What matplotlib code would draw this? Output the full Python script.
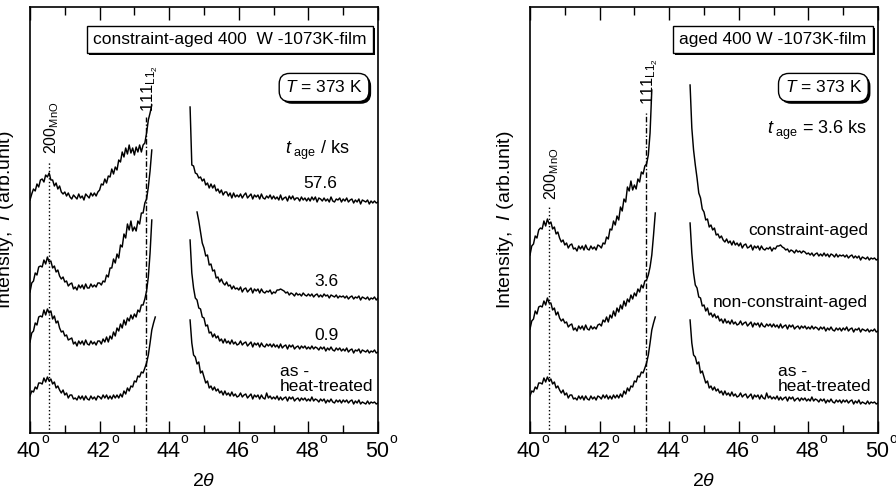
import matplotlib
matplotlib.use('Agg')
import matplotlib.pyplot as plt
import matplotlib.patheffects as pe
import matplotlib.transforms as mtransforms
import numpy as np

plt.rcParams['font.family'] = ['Liberation Sans', 'DejaVu Sans']
plt.rcParams['mathtext.fontset'] = 'custom'
plt.rcParams['mathtext.rm'] = 'Liberation Sans'
plt.rcParams['mathtext.it'] = 'Liberation Sans:italic'

nan = np.nan

# 2theta grid, 0.05 deg step (40 .. 50)
two_theta = np.round(np.arange(40.0, 50.001, 0.05), 2)

# intensities (arb. unit, stacked as plotted); nan = main peak clipped off
aged_57_6 = [
    233, 239, 244, 242, 249, 246, 253, 254, 251, 258, 256, 260, 253, 253, 247, 250, 244, 247, 241, 239,
    241, 237, 240, 236, 234, 238, 236, 234, 239, 235, 237, 233, 239, 237, 235, 240, 237, 240, 237, 241,
    243, 249, 248, 254, 250, 257, 256, 264, 259, 266, 263, 273, 271, 281, 276, 285, 279, 288, 280, 285,
    278, 286, 281, 288, 281, 288, 290, 300, 313, 320, 328, nan, nan, nan, nan, nan, nan, nan, nan, nan,
    nan, nan, nan, nan, nan, nan, nan, nan, nan, nan, nan, nan, 326, 268, 267, 260, 259, 255, 256, 252,
    254, 248, 250, 245, 249, 245, 248, 242, 244, 240, 243, 238, 241, 241, 237, 240, 235, 240, 236, 238,
    236, 239, 235, 238, 240, 235, 237, 239, 234, 238, 236, 238, 234, 239, 235, 234, 237, 235, 238, 234,
    237, 234, 236, 233, 238, 233, 235, 236, 232, 237, 234, 237, 233, 235, 235, 232, 236, 233, 235, 232,
    235, 232, 236, 233, 236, 231, 235, 234, 232, 235, 232, 234, 231, 236, 232, 231, 234, 233, 235, 231,
    234, 232, 235, 231, 233, 234, 230, 233, 231, 234, 229, 233, 232, 231, 233, 229, 232, 230, 232, 230,
    231]

aged_3_6 = [
    141, 150, 152, 160, 158, 166, 167, 166, 173, 169, 176, 171, 172, 165, 167, 161, 163, 157, 154, 156,
    151, 152, 147, 149, 150, 144, 146, 143, 148, 145, 148, 144, 149, 145, 145, 149, 146, 148, 146, 150,
    150, 148, 152, 151, 158, 156, 165, 165, 174, 170, 179, 175, 188, 186, 199, 195, 209, 203, 212, 202,
    206, 202, 212, 209, 220, 220, 230, 234, 246, 262, 283, nan, nan, nan, nan, nan, nan, nan, nan, nan,
    nan, nan, nan, nan, nan, nan, nan, nan, nan, nan, nan, nan, nan, nan, nan, nan, 221, 212, 201, 190,
    185, 177, 178, 168, 169, 162, 163, 155, 156, 151, 154, 150, 148, 151, 147, 148, 144, 147, 144, 145,
    143, 146, 141, 144, 145, 141, 143, 145, 140, 144, 142, 144, 140, 144, 141, 140, 142, 141, 143, 139,
    141, 140, 143, 143, 144, 143, 142, 140, 141, 138, 140, 139, 137, 140, 138, 139, 137, 140, 138, 137,
    139, 137, 139, 136, 138, 139, 136, 138, 136, 139, 137, 138, 135, 138, 137, 136, 138, 135, 137, 136,
    137, 135, 137, 134, 136, 137, 134, 136, 135, 137, 133, 136, 135, 134, 136, 133, 135, 134, 136, 133,
    135]

aged_0_9 = [
    91, 100, 102, 110, 108, 116, 117, 116, 123, 118, 124, 120, 122, 114, 117, 110, 112, 105, 101, 102,
    97, 98, 93, 94, 95, 89, 91, 87, 92, 89, 92, 88, 93, 89, 88, 92, 89, 91, 88, 92,
    92, 89, 94, 91, 96, 91, 97, 94, 101, 97, 105, 102, 109, 105, 113, 108, 115, 112, 118, 114,
    119, 116, 123, 121, 128, 128, 134, 142, 156, 180, 213, nan, nan, nan, nan, nan, nan, nan, nan, nan,
    nan, nan, nan, nan, nan, nan, nan, nan, nan, nan, nan, nan, 193, 160, 145, 135, 133, 125, 124, 116,
    115, 107, 108, 100, 101, 96, 99, 95, 97, 92, 94, 90, 94, 90, 92, 89, 93, 89, 91, 88,
    89, 92, 88, 90, 91, 87, 89, 91, 86, 90, 88, 90, 86, 90, 87, 86, 89, 87, 89, 86,
    89, 86, 88, 85, 89, 85, 87, 88, 84, 88, 86, 88, 84, 86, 87, 84, 87, 85, 87, 84,
    86, 84, 87, 84, 86, 85, 83, 86, 84, 86, 82, 85, 83, 86, 83, 82, 85, 83, 85, 82,
    84, 82, 85, 81, 83, 84, 80, 83, 82, 84, 80, 83, 82, 81, 83, 80, 82, 81, 83, 80,
    81]

as_heat_treated = [
    37, 42, 41, 46, 44, 50, 50, 49, 55, 51, 56, 52, 54, 49, 51, 45, 47, 43, 40, 43,
    38, 40, 35, 38, 38, 34, 35, 33, 37, 34, 37, 33, 37, 34, 33, 37, 34, 36, 33, 37,
    36, 34, 38, 35, 38, 34, 37, 34, 38, 35, 38, 35, 39, 36, 42, 39, 45, 42, 47, 46,
    52, 51, 57, 56, 61, 60, 65, 70, 78, 90, 103, 110, 116, nan, nan, nan, nan, nan, nan, nan,
    nan, nan, nan, nan, nan, nan, nan, nan, nan, nan, nan, nan, 113, 90, 78, 76, 69, 71, 60, 62,
    56, 50, 52, 45, 47, 43, 46, 42, 44, 40, 42, 38, 42, 38, 40, 37, 41, 37, 39, 36,
    37, 40, 36, 38, 39, 35, 37, 39, 34, 38, 36, 38, 34, 38, 35, 34, 40, 35, 37, 34,
    36, 34, 37, 33, 36, 33, 35, 36, 32, 36, 34, 36, 32, 34, 35, 32, 35, 33, 35, 32,
    34, 32, 36, 32, 34, 33, 31, 34, 32, 34, 30, 33, 31, 34, 31, 30, 33, 31, 33, 30,
    33, 31, 33, 30, 32, 33, 29, 32, 30, 33, 29, 31, 30, 29, 32, 29, 31, 30, 31, 29,
    30]

constraint_aged = [
    178, 187, 189, 197, 195, 203, 205, 204, 212, 207, 214, 209, 211, 204, 206, 199, 201, 195, 191, 193,
    188, 190, 185, 188, 189, 184, 185, 182, 187, 184, 187, 183, 188, 184, 183, 187, 184, 186, 183, 188,
    187, 185, 190, 189, 196, 194, 204, 203, 212, 208, 217, 213, 226, 222, 234, 231, 246, 242, 252, 243,
    248, 244, 254, 251, 261, 259, 267, 269, 278, 300, 343, nan, nan, nan, nan, nan, nan, nan, nan, nan,
    nan, nan, nan, nan, nan, nan, nan, nan, nan, nan, nan, nan, 348, 305, 283, 268, 255, 240, 235, 224,
    221, 213, 214, 206, 208, 203, 205, 198, 199, 195, 197, 193, 191, 194, 190, 192, 188, 192, 188, 190,
    187, 190, 185, 188, 189, 185, 186, 188, 183, 187, 185, 187, 183, 187, 184, 183, 185, 184, 186, 182,
    185, 184, 187, 187, 188, 186, 185, 183, 184, 181, 183, 182, 180, 183, 181, 182, 180, 182, 181, 179,
    180, 178, 180, 177, 179, 180, 177, 179, 177, 180, 177, 179, 176, 179, 178, 176, 179, 176, 178, 177,
    178, 176, 178, 175, 177, 178, 175, 177, 175, 177, 173, 176, 175, 174, 176, 173, 175, 174, 175, 173,
    174]

non_constraint_aged = [
    104, 112, 114, 122, 119, 126, 127, 126, 132, 128, 135, 130, 130, 123, 125, 118, 121, 115, 112, 114,
    110, 111, 106, 108, 109, 103, 105, 102, 107, 104, 107, 103, 108, 104, 103, 107, 104, 106, 104, 108,
    109, 107, 113, 111, 116, 111, 118, 115, 122, 117, 125, 121, 128, 124, 132, 127, 134, 131, 138, 134,
    140, 137, 144, 141, 148, 145, 152, 153, 158, 166, 178, 198, 220, nan, nan, nan, nan, nan, nan, nan,
    nan, nan, nan, nan, nan, nan, nan, nan, nan, nan, nan, nan, 210, 180, 160, 148, 145, 136, 135, 127,
    128, 122, 125, 118, 120, 116, 119, 115, 117, 112, 114, 110, 114, 110, 112, 109, 113, 109, 111, 108,
    109, 112, 108, 110, 111, 107, 109, 111, 106, 110, 108, 110, 106, 110, 107, 106, 109, 107, 109, 106,
    109, 106, 108, 105, 109, 105, 107, 108, 104, 108, 106, 108, 104, 106, 107, 104, 107, 105, 107, 104,
    106, 104, 107, 104, 106, 105, 103, 106, 104, 106, 102, 105, 103, 106, 103, 102, 105, 103, 105, 102,
    105, 103, 106, 102, 104, 105, 101, 104, 103, 105, 101, 104, 103, 102, 104, 101, 103, 102, 104, 101,
    102]

left_curves = [aged_57_6, aged_3_6, aged_0_9, as_heat_treated]
right_curves = [constraint_aged, non_constraint_aged, as_heat_treated]

mno_pos = 40.55
l12_pos = 43.32
xticks = [40, 42, 44, 46, 48, 50]

fig = plt.figure(figsize=(8.96, 4.92), dpi=100)
ax1 = fig.add_axes([30 / 896, 59 / 492, 348 / 896, 426 / 492])
ax2 = fig.add_axes([530 / 896, 59 / 492, 348 / 896, 426 / 492])


def shadow_box(t):
    t.get_bbox_patch().set_path_effects([
        pe.SimplePatchShadow(offset=(1.6, -1.6), shadow_rgbFace='black', alpha=1.0),
        pe.Normal()])


def setup(ax, curves):
    for c in curves:
        ax.plot(two_theta, c, color='black', lw=1.05)
    ax.set_xlim(40, 50)
    ax.set_ylim(0, 426)
    ax.set_xticks(xticks)
    ax.set_xticks(np.arange(41, 50, 2), minor=True)
    ax.set_yticks([])
    ax.tick_params(axis='x', which='both', direction='in', top=True, bottom=True,
                   width=1.0, labelbottom=False)
    ax.tick_params(axis='x', which='major', length=9)
    ax.tick_params(axis='x', which='minor', length=6)
    for s in ax.spines.values():
        s.set_linewidth(1.2)
    # tick labels with raised degree sign
    trans = mtransforms.blended_transform_factory(ax.transData, ax.transAxes)
    for v in xticks:
        ax.text(v - 0.03, -0.0556, '%d' % v, transform=trans, ha='center', va='baseline',
                fontsize=15.5, clip_on=False)
        ax.text(v + 0.44, -0.015, 'o', transform=trans, ha='center', va='center',
                fontsize=10, clip_on=False)
    ax.set_xlabel(r'$2\theta$', fontsize=14)
    ax.xaxis.set_label_coords(0.5, -0.093)
    ax.set_ylabel(r'Intensity,  $I$ (arb.unit)', fontsize=14, labelpad=10)


setup(ax1, left_curves)
setup(ax2, right_curves)

# reference lines and peak labels
for ax, top_mno, top_l12, lab_mno, lab_l12 in [(ax1, 271, 316, 279, 321),
                                                (ax2, 226, 320, 233, 328)]:
    ax.plot([mno_pos, mno_pos], [0, top_mno], color='black', lw=1.0, ls=':')
    ax.plot([l12_pos, l12_pos], [0, top_l12], color='black', lw=1.0,
            dashes=(4, 1.5, 1, 1.5))
    ax.text(mno_pos + 0.07, lab_mno, r'$\mathregular{200_{MnO}}$', rotation=90,
            ha='center', va='bottom', fontsize=11.5)
    ax.text(l12_pos + 0.13, lab_l12, r'$\mathregular{111_{L1_2}}$', rotation=90,
            ha='center', va='bottom', fontsize=12)

# left panel annotations
t = ax1.text(45.75, 393.5, 'constraint-aged 400  W -1073K-film', fontsize=12.5,
             ha='center', va='center',
             bbox=dict(boxstyle='square,pad=0.35', facecolor='white',
                       edgecolor='black', linewidth=1.0))
shadow_box(t)
t = ax1.text(48.45, 345.5, r'$T$ = 373 K', fontsize=12.5, ha='center', va='center',
             bbox=dict(boxstyle='round,pad=0.35,rounding_size=0.6', facecolor='white',
                       edgecolor='black', linewidth=1.0))
shadow_box(t)
ax1.text(47.33, 283, r'$t_{\ \mathregular{age}}$ / ks', fontsize=13, ha='left', va='center')
ax1.text(48.33, 250, '57.6', fontsize=12.5, ha='center', va='center')
ax1.text(48.53, 151, '3.6', fontsize=12.5, ha='center', va='center')
ax1.text(48.53, 98, '0.9', fontsize=12.5, ha='center', va='center')
ax1.text(47.18, 54, 'as -\nheat-treated', fontsize=12.5, ha='left', va='center',
         linespacing=1.0)

# right panel annotations
t = ax2.text(46.98, 393.5, 'aged 400 W -1073K-film', fontsize=12.5,
             ha='center', va='center',
             bbox=dict(boxstyle='square,pad=0.35', facecolor='white',
                       edgecolor='black', linewidth=1.0))
shadow_box(t)
t = ax2.text(48.43, 345.5, r'$T$ = 373 K', fontsize=12.5, ha='center', va='center',
             bbox=dict(boxstyle='round,pad=0.35,rounding_size=0.6', facecolor='white',
                       edgecolor='black', linewidth=1.0))
shadow_box(t)
ax2.text(46.81, 303, r'$t_{\ \mathregular{age}}$ = 3.6 ks', fontsize=13, ha='left',
         va='center')
ax2.text(49.71, 203, 'constraint-aged', fontsize=12.5, ha='right', va='center')
ax2.text(49.71, 130, 'non-constraint-aged', fontsize=12.5, ha='right', va='center')
ax2.text(47.13, 54, 'as -\nheat-treated', fontsize=12.5, ha='left', va='center',
         linespacing=1.0)

fig.savefig('out.png', dpi=100, facecolor='white')
plt.close(fig)
